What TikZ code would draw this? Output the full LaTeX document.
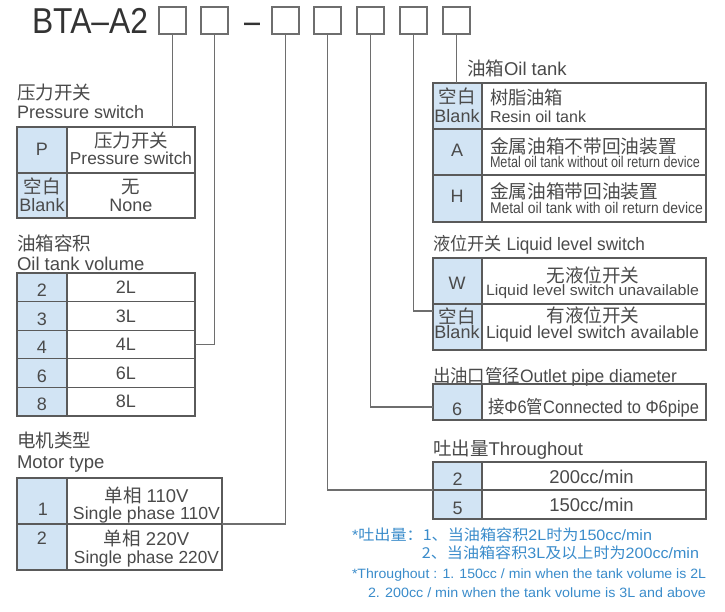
\documentclass[tikz,border=0pt]{standalone}
\usepackage{fontspec}
\usepackage{graphicx}
\setmainfont{Liberation Sans}
\newfontfamily\cjk{Noto Sans CJK SC}
\newcommand\fsz[1]{\fontsize{#1pt}{#1pt}\selectfont}
\newcommand\fitw[2]{\resizebox{#1pt}{\height}{#2}}
\definecolor{tline}{HTML}{5A5A5A}
\definecolor{cline}{HTML}{6E6E6E}
\definecolor{cellblue}{HTML}{D2E4F4}
\definecolor{txt}{HTML}{4A4A4A}
\definecolor{notec}{HTML}{3A8CCB}
\tikzset{
  every node/.style={inner sep=0pt, outer sep=0pt, text=txt},
  tbox/.style={draw=cline, line width=1.5pt, minimum size=27pt},
  tcell/.style={draw=tline, line width=1.1pt, anchor=north west},
  kcell/.style={tcell, fill=cellblue},
  conn/.style={draw=cline, line width=1.1pt},
  lab/.style={anchor=base west},
  ctr/.style={anchor=base},
  nlab/.style={text=notec},
}
\begin{document}
\begin{tikzpicture}[x=1pt,y=-1pt]
\useasboundingbox (0,0) rectangle (725,612);
\fill[white] (0,0) rectangle (725,612);

% ---- title ----
\node[lab, text=black!80] (title) at (32,33.3) {\fsz{36}\fitw{116}{BTA–A2}};
\node[tbox] (b1) at (172.5,20.5) {};
\node[tbox] (b2) at (214.5,20.5) {};
\node[ctr, text=black!80] (dash) at (252,33.3) {\fsz{36}\fitw{16}{–}};
\node[tbox] (b3) at (285.5,20.5) {};
\node[tbox] (b4) at (327.5,20.5) {};
\node[tbox] (b5) at (370.5,20.5) {};
\node[tbox] (b6) at (413.5,20.5) {};
\node[tbox] (b7) at (456.5,20.5) {};

% ---- pressure switch ----
\node[lab] (psl1) at (17,100) {\fsz{18.5}\cjk 压力开关};
\node[lab] (psl2) at (17,119) {\fsz{18}Pressure switch};
\node[kcell, minimum width=50pt, minimum height=46pt] (psk1) at (17,127) {};
\node[tcell, minimum width=128pt, minimum height=46pt] (psc1) at (67,127) {};
\node[kcell, minimum width=50pt, minimum height=45pt] (psk2) at (17,173) {};
\node[tcell, minimum width=128pt, minimum height=45pt] (psc2) at (67,173) {};
\node[ctr] (pst1) at (42,156) {\fsz{18}P};
\node[ctr] (pst2) at (131,147.5) {\fsz{18.5}\cjk 压力开关};
\node[ctr] (pst3) at (131,165) {\fsz{17.3}Pressure switch};
\node[ctr] (pst4) at (42,193.5) {\fsz{18.5}\cjk 空白};
\node[ctr] (pst5) at (42,212) {\fsz{18}Blank};
\node[ctr] (pst6) at (131,193.5) {\fsz{18.5}\cjk 无};
\node[ctr] (pst7) at (131,212) {\fsz{18}None};

% ---- oil tank volume ----
\node[lab] (ovl1) at (17,250.5) {\fsz{18.5}\cjk 油箱容积};
\node[lab] (ovl2) at (17,271) {\fsz{18.5}Oil tank volume};
\foreach \i/\k/\c in {0/2/2L,1/3/3L,2/4/4L,3/6/6L,4/8/8L}{
  \node[kcell, minimum width=50pt, minimum height=28.6pt] (ovk\i) at (17,273+28.6*\i) {};
  \node[tcell, minimum width=128pt, minimum height=28.6pt] (ovc\i) at (67,273+28.6*\i) {};
  \node[ctr] (ovtk\i) at (42,296.5+28.6*\i) {\fsz{18}\k};
  \node[ctr] (ovtc\i) at (126,293.5+28.6*\i) {\fsz{18}\c};
}

% ---- motor type ----
\node[lab] (mtl1) at (17,447) {\fsz{18.5}\cjk 电机类型};
\node[lab] (mtl2) at (17,468) {\fsz{18.5}Motor type};
\node[kcell, minimum width=50pt, minimum height=46pt] (mtk1) at (17,478) {};
\node[tcell, minimum width=155pt, minimum height=46pt] (mtc1) at (67,478) {};
\node[kcell, minimum width=50pt, minimum height=46pt] (mtk2) at (17,524) {};
\node[tcell, minimum width=155pt, minimum height=46pt] (mtc2) at (67,524) {};
\node[ctr] (mtt1) at (43,515) {\fsz{18}1};
\node[ctr] (mtt2) at (146.5,502) {\fsz{18.5}{\cjk 单相} 110V};
\node[ctr] (mtt3) at (146.5,519) {\fitw{147}{\fsz{17.5}Single phase 110V}};
\node[ctr] (mtt4) at (42,544) {\fsz{18}2};
\node[ctr] (mtt5) at (146.5,545) {\fsz{18.5}{\cjk 单相} 220V};
\node[ctr] (mtt6) at (146.5,563) {\fitw{145}{\fsz{17.5}Single phase 220V}};

% ---- oil tank ----
\node[lab] (otl) at (467,76) {\fsz{18.5}{\cjk 油箱}Oil tank};
\node[kcell, minimum width=49pt, minimum height=46pt] (otk1) at (433,83) {};
\node[tcell, minimum width=224pt, minimum height=46pt] (otc1) at (482,83) {};
\node[kcell, minimum width=49pt, minimum height=46pt] (otk2) at (433,129) {};
\node[tcell, minimum width=224pt, minimum height=46pt] (otc2) at (482,129) {};
\node[kcell, minimum width=49pt, minimum height=47pt] (otk3) at (433,175) {};
\node[tcell, minimum width=224pt, minimum height=47pt] (otc3) at (482,175) {};
\node[ctr] (ott1) at (457,103.5) {\fsz{18.5}\cjk 空白};
\node[ctr] (ott2) at (457,123) {\fsz{18}Blank};
\node[lab] (ott3) at (490,105) {\fsz{18.3}\cjk 树脂油箱};
\node[lab] (ott4) at (490,123) {\fsz{16}Resin oil tank};
\node[ctr] (ott5) at (457,157) {\fsz{18}A};
\node[lab] (ott6) at (490,153.5) {\fsz{18.7}\cjk 金属油箱不带回油装置};
\node[lab] (ott7) at (490,168) {\fitw{210}{\fsz{15.5}Metal oil tank without oil return device}};
\node[ctr] (ott8) at (457,203) {\fsz{18}H};
\node[lab] (ott9) at (490,198.5) {\fsz{18.7}\cjk 金属油箱带回油装置};
\node[lab] (ott10) at (490,214) {\fitw{213}{\fsz{15.5}Metal oil tank with oil return device}};

% ---- liquid level switch ----
\node[lab] (lsl) at (433,251) {\fitw{212}{\fsz{18}{\cjk 液位开关} Liquid level switch}};
\node[kcell, minimum width=49pt, minimum height=46pt] (lsk1) at (433,258) {};
\node[tcell, minimum width=224pt, minimum height=46pt] (lsc1) at (482,258) {};
\node[kcell, minimum width=49pt, minimum height=46pt] (lsk2) at (433,304) {};
\node[tcell, minimum width=224pt, minimum height=46pt] (lsc2) at (482,304) {};
\node[ctr] (lst1) at (457,290) {\fsz{18}W};
\node[ctr] (lst2) at (593,282.5) {\fsz{18.6}\cjk 无液位开关};
\node[ctr] (lst3) at (592.5,295.5) {\fitw{213}{\fsz{15}Liquid level switch unavailable}};
\node[ctr] (lst4) at (457,323) {\fsz{18.5}\cjk 空白};
\node[ctr] (lst5) at (457,338) {\fsz{18}Blank};
\node[ctr] (lst6) at (593,322.5) {\fsz{18.6}\cjk 有液位开关};
\node[ctr] (lst7) at (592.5,338) {\fitw{213}{\fsz{17.5}Liquid level switch available}};

% ---- outlet pipe diameter ----
\node[lab] (opl) at (433,382) {\fitw{244}{\fsz{18}{\cjk 出油口管径}Outlet pipe diameter}};
\node[kcell, minimum width=49pt, minimum height=36pt] (opk) at (433,384) {};
\node[tcell, minimum width=224pt, minimum height=36pt] (opc) at (482,384) {};
\node[ctr] (opt1) at (457,415) {\fsz{18}6};
\node[lab] (opt2) at (488,413) {\fitw{211}{\fsz{18}{\cjk 接}Φ6{\cjk 管}Connected to Φ6pipe}};

% ---- throughout ----
\node[lab] (tpl) at (433,455) {\fsz{18.5}{\cjk 吐出量}Throughout};
\node[kcell, minimum width=49pt, minimum height=28pt] (tpk1) at (433,462) {};
\node[tcell, minimum width=224pt, minimum height=28pt] (tpc1) at (482,462) {};
\node[kcell, minimum width=49pt, minimum height=29pt] (tpk2) at (433,490) {};
\node[tcell, minimum width=224pt, minimum height=29pt] (tpc2) at (482,490) {};
\node[ctr] (tpt1) at (457.5,485) {\fsz{18}2};
\node[ctr] (tpt2) at (591.5,483) {\fsz{18.5}200cc/min};
\node[ctr] (tpt3) at (457.5,514) {\fsz{18}5};
\node[ctr] (tpt4) at (591.5,511.5) {\fsz{18.5}150cc/min};

% ---- notes ----
\node[lab, nlab] (n1) at (352,540) {\fitw{300}{\fsz{15}*{\cjk 吐出量：1、当油箱容积}2L{\cjk 时为}150cc/min}};
\node[anchor=base east, nlab] (n2) at (699,558.5) {\fitw{277}{\fsz{15}{\cjk 2、当油箱容积}3L{\cjk 及以上时为}200cc/min}};
\node[anchor=base east, nlab] (n3) at (706,578) {\fitw{354}{\fsz{13.5}*Throughout : 1. 150cc / min when the tank volume is 2L}};
\node[anchor=base east, nlab] (n4) at (706,597) {\fitw{338}{\fsz{13.5}2. 200cc / min when the tank volume is 3L and above}};

% ---- connectors ----
\draw[conn] (b1.south) -- (b1.south |- psc1.north);
\draw[conn] (b2.south) |- (ovc2.east);
\draw[conn] (b3.south) |- (mtc1.south east);
\draw[conn] (b4.south) |- (tpk1.south west);
\draw[conn] (b5.south) |- ([yshift=-5pt]opk.west);
\draw[conn] (b6.south) |- ([yshift=-7pt]lsk2.north west);
\draw[conn] (b7.south) -- (b7.south |- otk1.north);
\end{tikzpicture}
\end{document}
